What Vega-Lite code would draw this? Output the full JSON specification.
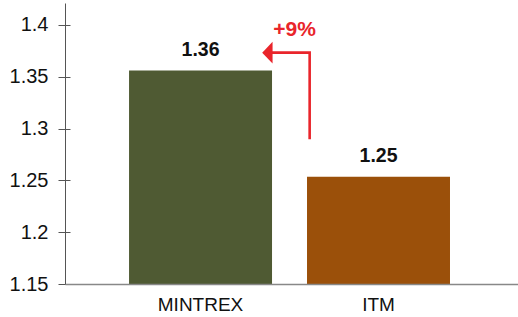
{
  "$schema": "https://vega.github.io/schema/vega-lite/v6.json",
  "width": 453,
  "height": 281,
  "autosize": {"type": "none"},
  "padding": {"left": 65, "top": 3, "right": 0, "bottom": 33},
  "background": "white",
  "config": {"view": {"stroke": null}, "font": "Liberation Sans"},
  "datasets": {
    "bars": [
      {"model": "MINTREX", "value": 1.356, "label": "1.36"},
      {"model": "ITM", "value": 1.2535, "label": "1.25"}
    ],
    "arrow": [
      {"pos": 0.6135, "value": 1.2897, "order": 1},
      {"pos": 0.6135, "value": 1.3733, "order": 2},
      {"pos": 0.39, "value": 1.3733, "order": 3}
    ],
    "head": [{"pos": 0.376, "value": 1.3733}],
    "note": [{"pos": 0.529, "value": 1.3894, "text": "+9%"}]
  },
  "layer": [
    {
      "data": {"name": "bars"},
      "encoding": {
        "x": {
          "field": "model",
          "type": "nominal",
          "sort": null,
          "scale": {"paddingInner": 0.1966, "paddingOuter": 0.371, "align": 0.485},
          "axis": {
            "title": null,
            "labelAngle": 0,
            "ticks": false,
            "labelPadding": 11,
            "labelFontSize": 19,
            "labelColor": "#111111",
            "domainColor": "#888888",
            "domainWidth": 1.5,
            "zindex": 1
          }
        }
      },
      "layer": [
        {
          "mark": {"type": "bar", "clip": true},
          "encoding": {
            "y": {
              "field": "value",
              "type": "quantitative",
              "scale": {"domain": [1.15, 1.4212], "zero": false, "nice": false},
              "axis": {
                "title": null,
                "values": [1.15, 1.2, 1.25, 1.3, 1.35, 1.4],
                "format": "~g",
                "grid": false,
                "tickSize": 7,
                "tickColor": "#555555",
                "domainColor": "#555555",
                "labelPadding": 10,
                "labelFontSize": 20,
                "labelColor": "#111111",
                "zindex": 1
              }
            },
            "color": {
              "field": "model",
              "type": "nominal",
              "scale": {"domain": ["MINTREX", "ITM"], "range": ["#4f5a33", "#9b500a"]},
              "legend": null
            }
          }
        },
        {
          "mark": {"type": "text", "fontWeight": "bold", "fontSize": 19.5, "dy": -15, "baseline": "alphabetic", "color": "#111111"},
          "encoding": {
            "text": {"field": "label"},
            "y": {
              "field": "value",
              "type": "quantitative",
              "axis": {
                "title": null,
                "orient": "left",
                "values": [1.2, 1.25, 1.3, 1.35, 1.4],
                "labels": false,
                "domain": false,
                "grid": false,
                "tickSize": -5,
                "tickColor": "#555555",
                "zindex": 1
              }
            }
          }
        }
      ],
      "resolve": {"axis": {"y": "independent"}}
    },
    {
      "encoding": {
        "x": {
          "field": "pos",
          "type": "quantitative",
          "scale": {"domain": [-0.761, 1.784], "nice": false, "zero": false},
          "axis": null
        },
        "y": {"field": "value", "type": "quantitative", "axis": null}
      },
      "layer": [
        {
          "data": {"name": "arrow"},
          "mark": {"type": "line", "color": "#e9252b", "strokeWidth": 2.6, "strokeJoin": "miter", "strokeCap": "butt"},
          "encoding": {"order": {"field": "order", "type": "quantitative"}}
        },
        {
          "data": {"name": "head"},
          "mark": {"type": "point", "shape": "M 0.48 -1 L -0.48 0 L 0.48 1 Z", "size": 467, "filled": true, "opacity": 1, "color": "#e9252b", "strokeWidth": 0}
        },
        {
          "data": {"name": "note"},
          "mark": {"type": "text", "fontWeight": "bold", "fontSize": 21, "baseline": "alphabetic", "color": "#e9252b"},
          "encoding": {"text": {"field": "text"}}
        }
      ]
    }
  ],
  "resolve": {"scale": {"x": "independent"}, "axis": {"y": "independent"}}
}
